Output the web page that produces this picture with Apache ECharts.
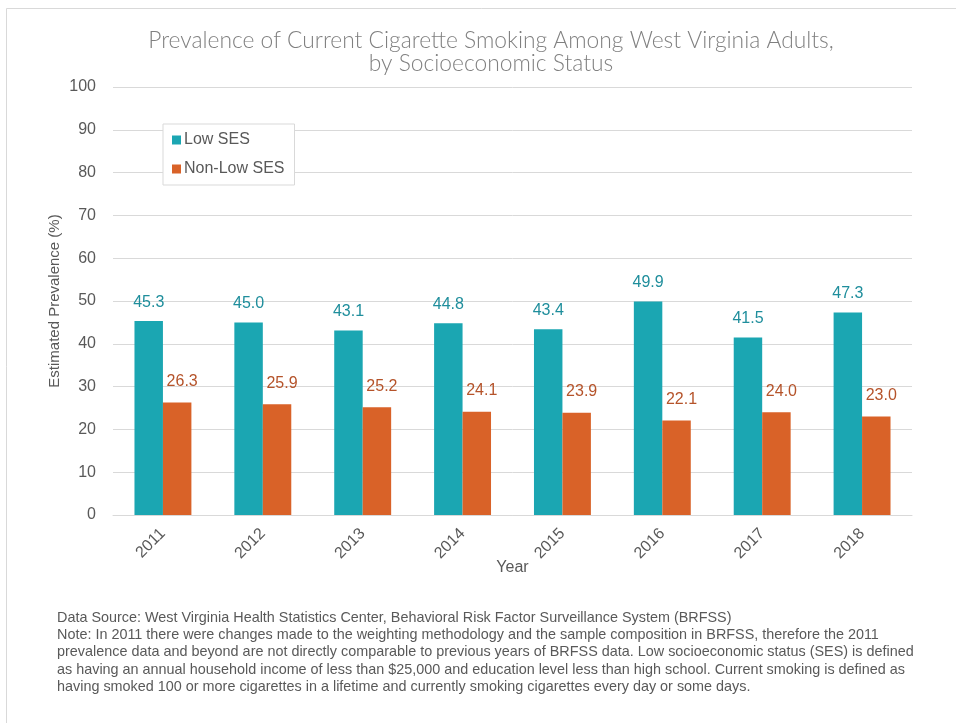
<!DOCTYPE html>
<html>
<head>
<meta charset="utf-8">
<script src="https://cdn.jsdelivr.net/npm/echarts@6/dist/echarts.min.js"></script>
<style>
  html, body { margin: 0; padding: 0; background: #fff; }
  #chart { width: 956px; height: 723px; }
</style>
</head>
<body>
<div id="chart"></div>
<script>
const categories = ['2011', '2012', '2013', '2014', '2015', '2016', '2017', '2018'];
const lowSES = [45.3, 45.0, 43.1, 44.8, 43.4, 49.9, 41.5, 47.3];
const nonLowSES = [26.3, 25.9, 25.2, 24.1, 23.9, 22.1, 24.0, 23.0];
const seriesNames = ['Low SES', 'Non-Low SES'];
const titleLines = ['Prevalence of Current Cigarette Smoking Among West Virginia Adults,', 'by Socioeconomic Status'];
const noteLines = [
  'Data Source: West Virginia Health Statistics Center, Behavioral Risk Factor Surveillance System (BRFSS)',
  'Note: In 2011 there were changes made to the weighting methodology and the sample composition in BRFSS, therefore the 2011',
  'prevalence data and beyond are not directly comparable to previous years of BRFSS data. Low socioeconomic status (SES) is defined',
  'as having an annual household income of less than $25,000 and education level less than high school. Current smoking is defined as',
  'having smoked 100 or more cigarettes in a lifetime and currently smoking cigarettes every day or some days.'
];

const chart = echarts.init(document.getElementById('chart'), null, { renderer: 'canvas' });
const gray = '#595959';
const font = 'Liberation Sans, Arial, sans-serif';

const noteGraphics = noteLines.map((t, i) => ({
  type: 'text',
  left: 57,
  top: 611 + i * 17.2,
  style: { text: t, fill: gray, font: '14.4px "Liberation Sans", Arial, sans-serif' }
}));

chart.setOption({
  animation: false,
  backgroundColor: '#fff',
  title: {
    text: titleLines.join('\n'),
    left: 486,
    top: 24,
    textAlign: 'center',
    textStyle: { color: '#808080', fontSize: 22.8, fontWeight: 300, fontFamily: 'Lato, "Open Sans", sans-serif', lineHeight: 23 }
  },
  legend: {
    data: seriesNames,
    orient: 'vertical',
    left: 163,
    top: 124,
    padding: [8, 10, 8, 9],
    itemGap: 13,
    itemWidth: 9,
    itemHeight: 9,
    icon: 'rect',
    borderColor: '#d9d9d9',
    borderWidth: 1,
    backgroundColor: '#fff',
    textStyle: { color: gray, fontSize: 16, fontFamily: font, padding: [0, 0, 0, -2] }
  },
  grid: { left: 113, right: 44, top: 87, bottom: 208, containLabel: false },
  xAxis: {
    type: 'category',
    data: categories,
    name: 'Year',
    nameLocation: 'middle',
    nameGap: 45,
    nameMoveOverlap: false,
    nameTextStyle: { color: gray, fontSize: 16, fontFamily: font },
    axisLine: { lineStyle: { color: '#d9d9d9', width: 1 } },
    axisTick: { show: false },
    axisLabel: { rotate: 45, color: gray, fontSize: 16, fontFamily: font, margin: 16 }
  },
  yAxis: {
    type: 'value',
    min: 0,
    max: 100,
    interval: 10,
    name: 'Estimated Prevalence (%)',
    nameLocation: 'middle',
    nameGap: 51,
    nameMoveOverlap: false,
    nameTextStyle: { color: gray, fontSize: 15, fontFamily: font },
    axisLine: { show: false },
    axisTick: { show: false },
    splitLine: { lineStyle: { color: '#d9d9d9', width: 1 } },
    axisLabel: { color: gray, fontSize: 16, fontFamily: font, margin: 17 }
  },
  series: [
    {
      name: seriesNames[0],
      type: 'bar',
      data: lowSES,
      barWidth: '28.5%',
      barGap: '0%',
      itemStyle: { color: '#1ba6b2' },
      label: {
        show: true, position: 'top', distance: 11,
        color: '#1f8e9c', fontSize: 16, fontFamily: font,
        formatter: p => p.value.toFixed(1)
      }
    },
    {
      name: seriesNames[1],
      type: 'bar',
      data: nonLowSES,
      barWidth: '28.5%',
      itemStyle: { color: '#d96228' },
      label: {
        show: true, position: 'top', distance: 13, offset: [5, 0],
        color: '#b5532a', fontSize: 16, fontFamily: font,
        formatter: p => p.value.toFixed(1)
      }
    }
  ],
  graphic: [
    {
      type: 'rect',
      shape: { x: 6.5, y: 8.5, width: 1000, height: 1000 },
      style: { fill: 'none', stroke: '#d9d9d9', lineWidth: 1 },
      silent: true
    }
  ].concat(noteGraphics)
});
</script>
</body>
</html>
